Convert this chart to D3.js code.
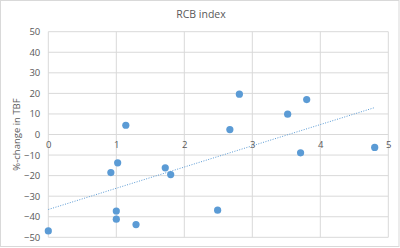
<!DOCTYPE html>
<html><head><meta charset="utf-8">
<script src="https://cdn.jsdelivr.net/npm/d3@7"></script>
<style>html,body{margin:0;padding:0;background:#fff;}svg{display:block;}</style>
</head><body>
<script>
const titleText = "RCB index";
const yLabelText = "%-change in TBF";
const xValues = [2.81, 3.80, 3.52, 1.14, 0.00, 1.02, 0.92, 1.72, 1.80, 1.00, 1.00, 1.29, 2.67, 3.71, 4.80, 2.49];
const yValues = [19.6, 17.0, 9.9, 4.5, -46.9, -13.8, -18.5, -16.2, -19.5, -37.2, -41.2, -43.8, 2.4, -8.9, -6.3, -36.8];
const xTicks = [0, 1, 2, 3, 4, 5];
const yTicks = [-50, -40, -30, -20, -10, 0, 10, 20, 30, 40, 50];

const W = 400, H = 248;
const m = {left: 48.3, right: 400 - 388.3, top: 31.7, bottom: 248 - 237.3};
const svg = d3.select("body").append("svg").attr("width", W).attr("height", H);
svg.append("rect").attr("x", 0.5).attr("y", 0.5).attr("width", W - 1.5).attr("height", H - 2)
  .attr("fill", "#fff").attr("stroke", "#d9d9d9");

const x = d3.scaleLinear().domain([0, 5]).range([m.left, W - m.right]);
const y = d3.scaleLinear().domain([-50, 50]).range([H - m.bottom, m.top]);
const font = "'Open Sans', 'Liberation Sans', sans-serif";
const grid = "#d9d9d9";

svg.append("g").selectAll("line").data(yTicks).join("line")
  .attr("x1", x(0)).attr("x2", x(5))
  .attr("y1", d => y(d)).attr("y2", d => y(d))
  .attr("stroke", grid).attr("stroke-width", 1);
svg.append("g").selectAll("line").data(xTicks).join("line")
  .attr("y1", y(-50)).attr("y2", y(50))
  .attr("x1", d => x(d)).attr("x2", d => x(d))
  .attr("stroke", grid).attr("stroke-width", 1);

const yAxis = d3.axisLeft(y).tickValues(yTicks).tickSize(0).tickPadding(8).tickFormat(d3.format("d"));
const gy = svg.append("g").attr("transform", `translate(${x(0)},0)`).call(yAxis);
gy.select(".domain").remove();
gy.selectAll("text").attr("font-family", font).attr("font-size", 9.5).attr("fill", "#595959");

const xAxis = d3.axisBottom(x).tickValues(xTicks).tickSize(0).tickPadding(7).tickFormat(d3.format("d"));
const gx = svg.append("g").attr("transform", `translate(0,${y(0)})`).call(xAxis);
gx.select(".domain").remove();
gx.selectAll("text").attr("font-family", font).attr("font-size", 9.5).attr("fill", "#595959");

svg.append("text").attr("x", 201).attr("y", 18).attr("text-anchor", "middle")
  .attr("font-family", font).attr("font-size", 10.5).attr("fill", "#595959").text(titleText);
svg.append("text").attr("transform", `translate(20,${(y(50) + y(-50)) / 2}) rotate(-90)`)
  .attr("text-anchor", "middle").attr("font-family", font).attr("font-size", 9.5)
  .attr("fill", "#595959").text(yLabelText);

const pts = xValues.map((v, i) => [v, yValues[i]]);
const mx = d3.mean(xValues), my = d3.mean(yValues);
const slope = d3.sum(pts, p => (p[0] - mx) * (p[1] - my)) / d3.sum(pts, p => (p[0] - mx) ** 2);
const icpt = my - slope * mx;
const x0 = d3.min(xValues), x1 = d3.max(xValues);
svg.append("line")
  .attr("x1", x(x0)).attr("y1", y(icpt + slope * x0))
  .attr("x2", x(x1)).attr("y2", y(icpt + slope * x1))
  .attr("stroke", "#5b9bd5").attr("stroke-width", 1).attr("stroke-dasharray", "1,1.5");

svg.append("g").selectAll("circle").data(pts).join("circle")
  .attr("cx", d => x(d[0])).attr("cy", d => y(d[1])).attr("r", 3.6)
  .attr("fill", "#5b9bd5");
</script>
</body></html>
